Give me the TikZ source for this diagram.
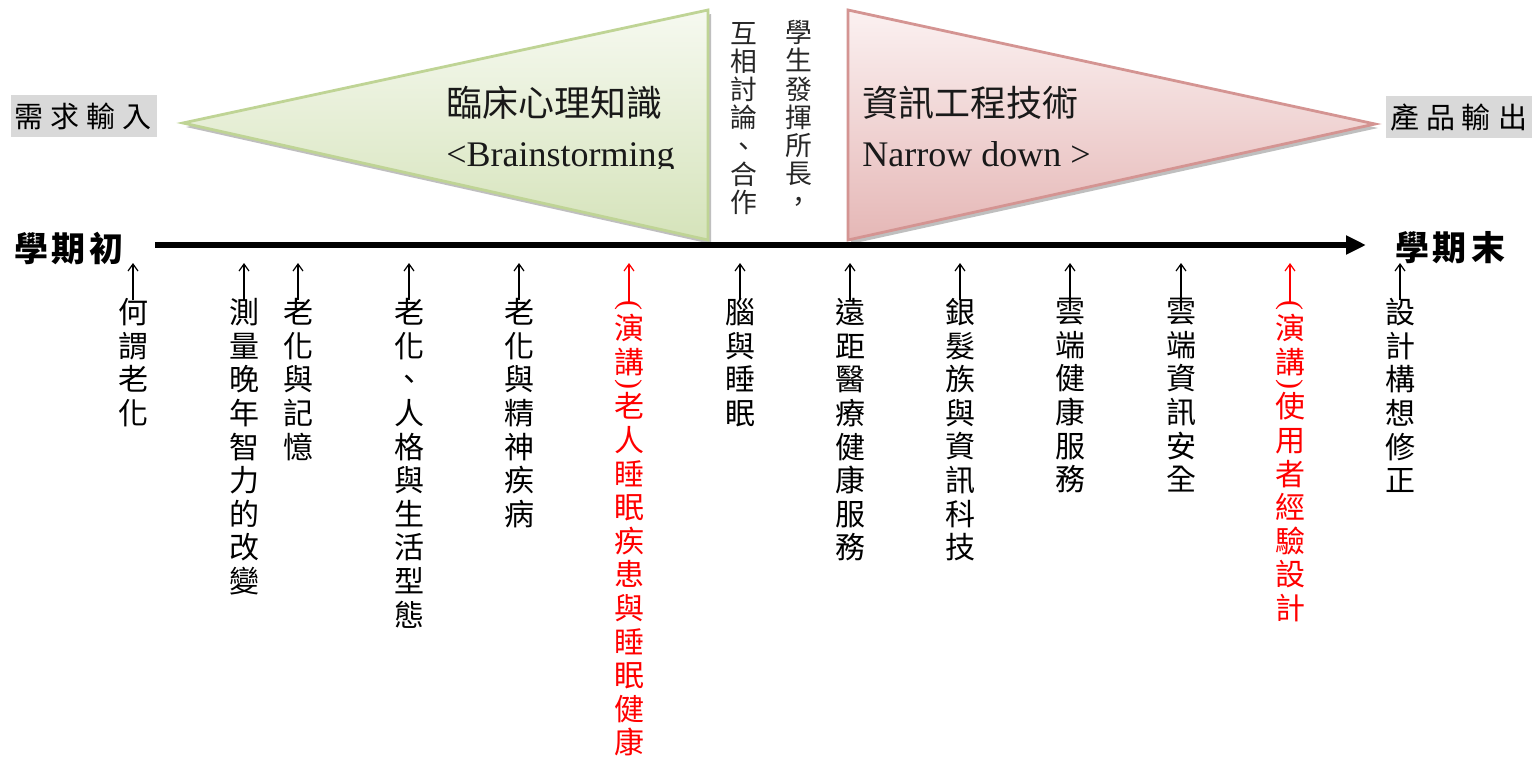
\documentclass[tikz,border=0pt]{standalone}
\usepackage{fontspec}
\usepackage{graphicx}
\setmainfont{Liberation Serif}
\newfontfamily\cjk{Noto Sans CJK TC}
\usetikzlibrary{arrows.meta}
\definecolor{gtop}{HTML}{F6F9F0}
\definecolor{gbot}{HTML}{D5E3BA}
\definecolor{gline}{HTML}{BFD495}
\definecolor{rtop}{HTML}{FBF1F1}
\definecolor{rbot}{HTML}{E5B7B6}
\definecolor{rline}{HTML}{D49492}
\definecolor{boxgray}{HTML}{D9D9D9}
\definecolor{lecred}{HTML}{FF0000}
\newcommand\popen{\rotatebox[origin=c]{-90}{\rmfamily(}}
\newcommand\pclose{\rotatebox[origin=c]{-90}{\rmfamily)}}
\begin{document}
\begin{tikzpicture}[x=0.5pt,y=-0.5pt,
  lab/.style={anchor=north, align=center, inner sep=0pt,
    font=\cjk\fontsize{15pt}{16.8pt}\selectfont},
  lecture/.style={lab, text=lecred},
  midtext/.style={anchor=north, align=center, inner sep=0pt, text=black!85,
    font=\cjk\fontsize{13.4pt}{14.1pt}\selectfont},
  ttl/.style={inner sep=0pt, font=\fontsize{18pt}{20pt}\selectfont, text=black!90},
  endbox/.style={fill=boxgray, inner sep=0pt, minimum width=73pt, minimum height=21pt,
    font=\cjk\fontsize{14.5pt}{16pt}\selectfont},
  term/.style={inner sep=0pt, font=\cjk\bfseries\fontsize{17pt}{19pt}\selectfont},
  axisline/.style={line width=3pt, -{Triangle[length=10pt,width=9pt]}},
  tick/.style={line width=0.6pt, -{Straight Barb[length=3.5pt,width=5pt]}},
  tickred/.style={tick, draw=lecred},
  shadowfill/.style={fill=black!45, opacity=0.55}
]
\useasboundingbox (0,0) rectangle (1538,766);
\fill[white] (0,0) rectangle (1538,766);

% triangles with shadows
\fill[shadowfill] (186,127) -- (711,14) -- (711,244) -- cycle;
\path[top color=gtop, bottom color=gbot, draw=gline, line width=1.4pt, line join=miter]
  (183,123) -- (708,10) -- (708,240) -- cycle;
\fill[shadowfill] (851,14) -- (851,244) -- (1378,128) -- cycle;
\path[top color=rtop, bottom color=rbot, draw=rline, line width=1.4pt, line join=miter]
  (848,10) -- (848,240) -- (1375,124) -- cycle;

% titles in triangles
\node[ttl, anchor=west] (g1) at (446,103) {\cjk 臨床心理知識};
\begin{scope}
  \clip (430,125) rectangle (700,168);
  \node[ttl, anchor=base west] (g2) at (446,166) {<Brainstorming};
\end{scope}
\node[ttl, anchor=west] (r1) at (862,103) {\cjk 資訊工程技術};
\node[ttl, anchor=base west] (r2) at (862,166) {Narrow down >};

% middle vertical texts
\node[midtext] (m1) at (744,22) {互\\相\\討\\論\\、\\合\\作};
\node[midtext] (m2) at (799,20) {學\\生\\發\\揮\\所\\長\\，};

% input / output boxes
\node[endbox] (in) at (83.5,116) {需\hspace{3.5pt}求\hspace{3.5pt}輸\hspace{3.5pt}入};
\node[endbox] (out) at (1458.5,117) {產\hspace{3.5pt}品\hspace{3.5pt}輸\hspace{3.5pt}出};

% time axis
\node[term] (start) at (69,248) {學\hspace{2pt}期\hspace{2pt}初};
\node[term] (end) at (1450,248) {學\hspace{2pt}期\hspace{2pt}末};
\coordinate (ax0) at (155,245);
\coordinate (ax1) at (1366,245);
\draw[axisline] (ax0) -- (ax1);

% topics
\node[lab] (t1) at (133,298) {何\\謂\\老\\化};
\node[lab] (t2) at (244,298) {測\\量\\晚\\年\\智\\力\\的\\改\\變};
\node[lab] (t3) at (298,298) {老\\化\\與\\記\\憶};
\node[lab] (t4) at (409,298) {老\\化\\、\\人\\格\\與\\生\\活\\型\\態};
\node[lab] (t5) at (519,298) {老\\化\\與\\精\\神\\疾\\病};
\node[lecture] (t6) at (629,300) {\popen\\[-3.2pt]演\\講\\[-7.9pt]\pclose\\[-3.5pt]老\\人\\睡\\眠\\疾\\患\\與\\睡\\眠\\健\\康};
\node[lab] (t7) at (740,298) {腦\\與\\睡\\眠};
\node[lab] (t8) at (850,298) {遠\\距\\醫\\療\\健\\康\\服\\務};
\node[lab] (t9) at (960,298) {銀\\髮\\族\\與\\資\\訊\\科\\技};
\node[lab] (t10) at (1070,298) {雲\\端\\健\\康\\服\\務};
\node[lab] (t11) at (1181,298) {雲\\端\\資\\訊\\安\\全};
\node[lecture] (t12) at (1290,300) {\popen\\[-3.2pt]演\\講\\[-7.9pt]\pclose\\[-3.5pt]使\\用\\者\\經\\驗\\設\\計};
\node[lab] (t13) at (1400,298) {設\\計\\構\\想\\修\\正};

\foreach \i/\x in {1/133,2/244,3/298,4/409,5/519,7/740,8/850,9/960,10/1070,11/1181,13/1400}{
  \coordinate (a\i) at (\x,263);
  \draw[tick] ([yshift=-1pt]t\i.north) -- (a\i);
}
\foreach \i/\x in {6/629,12/1290}{
  \coordinate (a\i) at (\x,263);
  \draw[tickred] ([yshift=-1pt]t\i.north) -- (a\i);
}
\end{tikzpicture}
\end{document}
